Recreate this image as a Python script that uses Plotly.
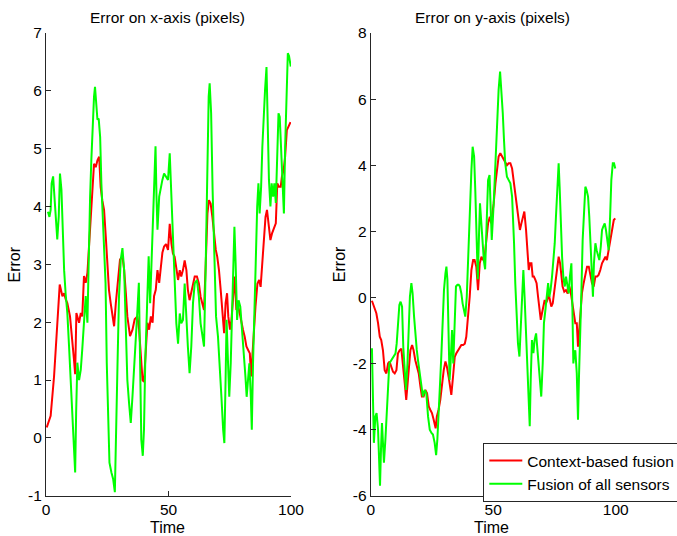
import plotly.graph_objects as go

# ---------------- data ----------------
# Left panel: error on x-axis (pixels)
tx_ctx = [0.3, 1.9, 3.3, 4.6, 5.6, 6.7, 7.4, 8.0, 8.7, 9.8, 10.8, 11.4, 11.9, 12.4, 12.8, 13.5, 14.2, 14.8,
          15.5, 16.2, 16.9, 17.6, 18.3, 18.9, 19.6, 20.3, 21.0, 21.7, 22.3, 23.0, 23.7, 24.4, 25.1, 25.7,
          26.4, 27.1, 27.8, 28.5, 29.2, 30.2, 31.2, 31.9, 32.6, 33.2, 34.3, 35.3, 36.2, 37.3, 38.0, 38.7,
          39.4, 40.0, 40.7, 41.4, 42.1, 42.8, 43.5, 44.1, 44.8, 45.5, 46.2, 46.9, 47.5, 48.2, 49.0, 49.8,
          50.5, 51.2, 51.8, 52.5, 53.2, 53.9, 54.6, 55.2, 55.9, 56.6, 57.3, 57.9, 58.6, 59.3, 60.0, 60.7,
          61.6, 62.4, 63.1, 63.8, 64.5, 65.2, 65.9, 66.5, 67.2, 67.9, 68.6, 69.3, 69.9, 70.6, 71.3, 72.0,
          72.7, 73.3, 73.9, 74.4, 75.1, 75.7, 76.3, 77.0, 77.7, 78.4, 79.1, 79.7, 80.4, 81.1, 81.8, 82.5,
          83.2, 83.7, 84.2, 84.9, 85.5, 86.3, 87.0, 87.6, 88.3, 89.0, 89.6, 90.2, 90.9, 91.6, 92.3, 93.1,
          93.8, 94.4, 95.1, 95.8, 96.3, 97.0, 97.6, 98.3, 99.0, 99.8]
ex_ctx = [0.18, 0.38, 1.07, 1.87, 2.65, 2.45, 2.5, 2.4, 2.33, 2.1, 1.7, 1.36, 1.1, 2.16, 2.1, 1.99, 2.16, 2.1,
          2.8, 2.68, 2.85, 3.4, 3.8, 4.34, 4.74, 4.68, 4.8, 4.86, 4.34, 4.1, 3.94, 3.48, 3.02, 2.56,
          2.33, 2.1, 1.93, 2.33, 2.68, 3.08, 3.14, 2.9, 2.5, 2.1, 1.76, 1.87, 2.05, 2.1, 1.87, 1.41,
          1.0, 0.97, 1.53, 1.99, 1.87, 2.1, 1.99, 2.45, 2.56, 2.9, 2.68, 3.02, 3.2, 3.31, 3.35, 3.25,
          3.7, 3.36, 3.19, 3.13, 2.9, 2.73, 2.9, 2.79, 2.9, 3.07, 2.9, 2.56, 2.38, 2.5, 2.67, 2.79,
          2.79, 2.67, 2.44, 2.33, 2.21, 3.02, 3.88, 4.11, 4.05, 3.82, 3.48, 3.25, 3.13, 2.9, 2.56, 2.15,
          1.81, 2.33, 2.5, 2.1, 1.87, 2.04, 2.44, 2.79, 2.21, 2.27, 2.15, 1.98, 1.87, 1.75, 1.58, 1.52,
          1.46, 1.06, 1.46, 1.93, 2.27, 2.67, 2.73, 2.61, 3.02, 3.36, 3.82, 3.94, 3.65, 3.42, 3.54, 3.65,
          3.71, 4.4, 4.34, 4.34, 4.52, 4.63, 4.86, 5.32, 5.4, 5.46]

tx_all = [0.8, 1.4, 1.9, 2.3, 2.9, 3.3, 3.7, 4.2, 4.6, 5.2, 5.7, 6.3, 6.8, 7.4, 8.0, 8.7, 9.4, 10.1, 10.8,
          11.4, 11.9, 12.3, 12.8, 13.5, 14.2, 14.8, 15.5, 16.2, 16.9, 17.3, 18.0, 18.5, 19.1, 19.6, 20.0,
          20.6, 21.0, 21.5, 22.1, 22.6, 23.2, 23.7, 24.3, 24.8, 25.3, 25.9, 26.7, 27.4, 28.1, 28.6, 29.2,
          29.8, 30.5, 31.2, 31.9, 32.6, 33.2, 33.9, 34.6, 35.3, 36.0, 36.6, 37.3, 37.9, 38.4, 38.9, 39.5,
          40.0, 40.5, 41.0, 41.6, 41.9, 42.5, 43.1, 43.6, 44.1, 44.7, 45.1, 45.5, 46.2, 46.9, 47.5, 48.2,
          48.9, 49.8, 50.5, 51.2, 51.8, 52.5, 53.2, 53.9, 54.6, 55.2, 55.9, 56.6, 57.3, 57.9, 58.6, 59.3,
          60.0, 60.7, 61.6, 62.4, 63.1, 63.8, 64.5, 65.2, 65.9, 66.4, 66.8, 67.4, 68.0, 68.7, 69.4, 70.2,
          70.9, 71.6, 72.3, 72.8, 73.3, 73.7, 74.3, 74.8, 75.4, 75.9, 76.5, 76.9, 77.4, 78.0, 78.6, 79.3,
          80.0, 80.7, 81.4, 81.9, 82.5, 83.0, 83.6, 84.0, 84.5, 85.1, 85.6, 86.2, 86.7, 87.2, 87.8, 88.3,
          88.9, 89.4, 90.0, 90.5, 91.0, 91.6, 92.1, 92.7, 93.2, 93.8, 94.3, 94.9, 95.4, 96.0, 96.5, 97.1,
          97.6, 98.1, 98.7, 99.2, 99.9]
ex_all = [3.91, 3.82, 3.94, 4.4, 4.52, 4.29, 4.06, 3.66, 3.43, 3.83, 4.57, 4.29, 3.48, 2.9, 2.5, 2.16, 1.59, 1.0, 0.38,
          -0.14, -0.6, 0.44, 1.3, 1.0, 1.18, 1.53, 1.99, 2.45, 1.99, 3.02, 4.17, 4.8, 5.6, 5.9, 6.07,
          5.78, 5.5, 5.52, 5.2, 4.4, 3.83, 3.37, 2.68, 1.3, 0.38, -0.43, -0.6, -0.71, -0.94, -0.14, 1.3,
          2.45, 3.08, 3.28, 2.9, 1.87, 1.0, 0.6, 0.26, 0.72, 1.3, 1.87, 2.2, 2.68, 1.59, -0.03, -0.31,
          0.15, 1.3, 2.04, 2.68, 3.14, 2.33, 3.02, 3.6, 4.29, 5.04, 4.17, 3.6, 4.17, 4.34, 4.46, 4.57,
          4.52, 4.46, 4.92, 4.17, 3.3, 2.79, 1.98, 1.63, 2.15, 1.98, 2.04, 2.67, 1.98, 1.58, 1.12, 1.58,
          2.33, 2.67, 2.73, 2.44, 1.98, 1.75, 1.58, 3.02, 5.04, 5.9, 6.13, 5.61, 4.29, 3.02, 2.1, 1.75,
          1.29, 0.71, 0.14, -0.09, 1.0, 2.04, 1.29, 0.71, 1.29, 2.15, 3.02, 3.65, 3.02, 2.04, 2.38, 2.27,
          1.87, 1.52, 1.06, 0.71, 1.0, 1.29, 0.71, 0.14, 1.29, 2.1, 3.02, 4.0, 4.4, 3.88, 4.34, 5.03,
          5.72, 6.01, 6.41, 5.61, 4.46, 4.0, 4.4, 4.17, 4.4, 4.06, 4.75, 5.61, 5.55, 4.86, 4.29, 3.88,
          5.03, 5.9, 6.65, 6.6, 6.42]

# Right panel: error on y-axis (pixels)
ty_ctx = [0.5, 1.3, 2.3, 3.0, 3.7, 4.3, 5.0, 5.7, 6.4, 7.1, 7.7, 8.4, 9.1, 9.8, 10.5, 11.1, 11.8, 12.5, 13.2,
          13.9, 14.5, 15.0, 15.5, 16.2, 16.9, 17.5, 18.2, 18.9, 19.6, 20.3, 20.9, 21.6, 22.3, 23.0, 23.7,
          24.3, 25.0, 25.7, 26.5, 27.0, 27.7, 28.4, 29.1, 29.8, 30.5, 31.1, 31.8, 32.5, 32.9, 33.6, 34.3,
          34.9, 35.6, 36.3, 37.0, 37.7, 38.4, 39.0, 39.7, 40.4, 41.1, 41.8, 42.4, 43.1, 43.8, 44.5, 45.2,
          45.8, 46.5, 47.2, 47.9, 48.6, 49.2, 49.5, 50.2, 50.9, 51.5, 52.2, 52.9, 53.6, 54.3, 54.9, 55.6,
          56.3, 57.0, 57.7, 58.3, 59.0, 59.7, 60.4, 60.9, 61.5, 62.0, 62.7, 63.4, 63.9, 64.5, 65.0, 65.6,
          66.1, 66.6, 67.2, 67.7, 68.3, 68.8, 69.4, 69.9, 70.5, 71.0, 71.5, 72.1, 72.6, 73.2, 73.7, 74.3,
          74.8, 75.4, 76.0, 76.7, 77.3, 77.8, 78.3, 79.0, 79.7, 80.4, 81.1, 81.7, 82.4, 83.0, 83.5, 84.1,
          84.6, 85.1, 85.7, 86.2, 86.9, 87.6, 88.3, 89.0, 89.6, 90.3, 91.0, 91.7, 92.4, 93.0, 93.7, 94.4,
          95.1, 95.8, 96.4, 97.1, 97.8, 98.5, 99.2, 99.8]
ey_ctx = [-0.1, -0.28, -0.48, -0.78, -1.19, -1.29, -1.6, -2.2, -2.3, -2.0, -1.94, -2.1, -2.25, -2.3, -2.2, -1.7, -1.6, -1.55, -2.0,
          -2.6, -3.1, -2.6, -2.0, -1.6, -1.44, -1.6, -1.9, -2.15, -2.3, -2.7, -3.0, -3.0, -2.8, -2.9, -3.3,
          -3.4, -3.5, -3.7, -3.96, -3.6, -3.4, -3.1, -2.6, -2.2, -1.94, -2.1, -2.4, -2.7, -2.95, -2.4, -1.8,
          -1.7, -1.6, -1.5, -1.44, -1.44, -1.4, -1.19, -0.68, 0.02, 0.83, 1.13, 1.13, 0.93, 0.22, 1.03, 1.23,
          1.13, 1.23, 1.84, 2.24, 2.44, 2.24, 2.44, 2.85, 3.45, 3.85, 4.26, 4.36, 4.26, 4.16, 4.06, 4.0,
          4.06, 4.06, 3.9, 3.55, 3.05, 2.64, 2.24, 2.04, 2.24, 2.44, 2.6, 2.04, 1.33, 0.83, 1.03, 1.03,
          0.63, 0.63, 0.53, 0.43, 0.02, -0.38, -0.68, -0.48, -0.18, -0.08, -0.18, -0.08, 0.12, -0.08, -0.28, -0.18,
          0.12, 0.43, 0.83, 1.23, 1.03, 0.63, 0.33, 0.17, 0.22, 0.12, 0.33, 0.12, -0.28, -0.58, -0.78, -0.78,
          -1.49, -0.99, -0.38, 0.12, 0.43, 0.73, 0.93, 0.93, 0.73, 0.43, 0.33, 0.63, 0.63, 0.68, 0.83, 1.03,
          1.13, 1.23, 1.13, 1.43, 1.74, 2.14, 2.34, 2.39]

ty_all = [0.5, 0.9, 1.3, 1.9, 2.4, 3.0, 3.4, 3.8, 4.2, 4.6, 5.0, 5.4, 6.0, 6.5, 7.1, 7.6, 8.4, 9.2, 10.1,
          10.6, 11.1, 11.7, 12.2, 12.8, 13.3, 13.9, 14.4, 15.0, 15.5, 16.0, 16.6, 17.1, 17.7, 18.2, 18.8,
          19.3, 20.0, 20.7, 21.3, 22.0, 22.7, 23.4, 24.1, 24.8, 25.4, 26.1, 26.7, 27.2, 27.7, 28.3, 28.8,
          29.4, 29.9, 30.5, 30.9, 31.3, 31.7, 32.2, 32.6, 33.2, 33.7, 34.3, 34.8, 35.4, 35.9, 36.4, 37.0,
          37.5, 38.1, 38.6, 39.2, 39.7, 40.1, 40.5, 41.1, 41.6, 42.2, 42.7, 43.3, 43.7, 44.2, 44.6, 45.1,
          45.6, 46.2, 46.7, 47.3, 47.9, 48.5, 49.0, 49.4, 50.2, 50.9, 51.5, 52.2, 52.8, 53.3, 53.9, 54.4,
          54.9, 55.6, 56.3, 57.0, 57.7, 58.1, 58.5, 59.0, 59.6, 60.1, 60.7, 61.2, 61.7, 62.3, 62.8, 63.4,
          63.9, 64.5, 64.9, 65.3, 65.8, 66.4, 66.9, 67.5, 68.0, 68.5, 69.1, 69.6, 70.2, 70.7, 71.3, 71.8,
          72.4, 72.9, 73.4, 74.0, 74.5, 75.1, 75.6, 76.2, 76.7, 77.1, 77.5, 78.1, 78.6, 79.2, 79.7, 80.2,
          80.8, 81.3, 81.9, 82.3, 82.7, 83.1, 83.5, 84.1, 84.6, 85.0, 85.4, 86.0, 86.5, 87.1, 87.6, 88.1,
          88.7, 89.2, 89.8, 90.3, 90.7, 91.1, 91.7, 92.2, 92.8, 93.3, 93.9, 94.4, 94.9, 95.5, 96.0, 96.6,
          97.1, 97.7, 98.2, 98.8, 99.3, 99.8]
ey_all = [-1.54, -3.0, -4.4, -3.6, -3.5, -4.0, -5.0, -5.7, -4.6, -3.8, -4.4, -5.0, -4.3, -3.5, -2.6, -2.0, -1.9, -1.8, -1.7,
          -1.4, -0.79, -0.23, -0.13, -0.28, -1.5, -2.4, -2.8, -2.0, -0.99, 0.02, 0.43, 0.12, -0.58, -1.19, -1.59,
          -1.9, -2.3, -2.7, -3.0, -2.8, -2.9, -3.6, -4.0, -4.1, -4.15, -4.4, -4.77, -4.3, -3.3, -2.6, -1.8,
          -0.68, 0.22, 0.73, 0.93, 0.53, -0.99, -2.5, -2.0, -0.99, -2.0, -0.28, 0.33, 0.38, 0.38, 0.33, 0.12,
          -0.18, -0.48, -0.58, 0.02, 1.03, 2.04, 3.05, 3.85, 4.56, 4.26, 3.2, 1.6, 0.55, 1.9, 2.85, 2.3,
          1.7, 1.1, 0.85, 2.3, 3.55, 3.7, 2.6, 1.74, 2.85, 4.06, 5.27, 6.28, 6.83, 6.38, 5.57, 4.76,
          4.06, 3.65, 3.55, 3.45, 3.05, 2.44, 1.64, 0.43, -0.68, -1.39, -1.79, -0.99, 0.22, 0.83, 0.02, -0.99,
          -2.0, -3.0, -3.9, -2.5, -1.29, -1.69, -1.29, -1.09, -1.59, -2.2, -2.7, -3.0, -2.0, -0.78, -0.38, 0.02,
          0.43, 0.02, 0.22, 0.63, 1.03, 1.64, 2.44, 3.35, 4.06, 3.35, 2.34, 1.23, 0.63, 0.33, 0.63, 0.43,
          0.12, 0.63, 1.03, -0.28, -2.0, -1.7, -1.6, -2.3, -3.7, -2.4, -0.99, 0.22, 1.74, 2.85, 3.35, 3.25,
          3.05, 2.44, 1.23, 0.53, 0.02, 1.03, 1.64, 1.43, 1.23, 1.13, 1.54, 2.04, 2.14, 2.24, 2.04, 1.64,
          1.43, 2.44, 3.55, 4.06, 4.06, 3.9]

titles = ["Error on x-axis (pixels)", "Error on y-axis (pixels)"]
series_names = ["Context-based fusion", "Fusion of all sensors"]
x_label = "Time"
y_label = "Error"
x_ticks = [0, 50, 100]
y_ticks_left = [-1, 0, 1, 2, 3, 4, 5, 6, 7]
y_ticks_right = [-6, -4, -2, 0, 2, 4, 6, 8]

# ---------------- styling ----------------
W, H = 677, 536
RED = "#ff0000"
GREEN = "#00ff00"
FONT = "Liberation Sans, Arial, Helvetica, sans-serif"
AX = "#262626"

fig = go.Figure()
fig.add_trace(go.Scatter(x=tx_ctx, y=ex_ctx, mode="lines", line=dict(color=RED, width=2),
                         name=series_names[0], showlegend=False, xaxis="x", yaxis="y"))
fig.add_trace(go.Scatter(x=tx_all, y=ex_all, mode="lines", line=dict(color=GREEN, width=2),
                         name=series_names[1], showlegend=False, xaxis="x", yaxis="y"))
fig.add_trace(go.Scatter(x=ty_ctx, y=ey_ctx, mode="lines", line=dict(color=RED, width=2),
                         name=series_names[0], xaxis="x2", yaxis="y2"))
fig.add_trace(go.Scatter(x=ty_all, y=ey_all, mode="lines", line=dict(color=GREEN, width=2),
                         name=series_names[1], xaxis="x2", yaxis="y2"))

y_dom = [1 - 495.7 / H, 1 - 33 / H]
common = dict(showgrid=False, zeroline=False, showline=True, linecolor=AX, linewidth=1,
              ticks="inside", ticklen=5, tickcolor=AX, tickwidth=1,
              tickfont=dict(family=FONT, size=15.5, color="black"), mirror=False)

def tt(vals):
    return dict(tickmode="array", tickvals=vals, ticktext=[str(v) for v in vals])

fig.update_layout(
    width=W, height=H, margin=dict(l=0, r=0, t=0, b=0, autoexpand=False),
    paper_bgcolor="white", plot_bgcolor="white",
    xaxis=dict(domain=[46 / W, 291 / W], range=[0, 100], anchor="y", **tt(x_ticks), **common),
    yaxis=dict(domain=y_dom, range=[-1, 7], anchor="x", **tt(y_ticks_left), **common),
    xaxis2=dict(domain=[370.7 / W, 1.0], range=[0, 125], anchor="y2", **tt(x_ticks), **common),
    yaxis2=dict(domain=y_dom, range=[-6, 8], anchor="x2", **tt(y_ticks_right), **common),
    legend=dict(x=483.3 / W, y=1 - 443 / H, xanchor="left", yanchor="top",
                bgcolor="white", bordercolor="#262626", borderwidth=1,
                font=dict(family=FONT, size=15.5, color="black"),
                itemwidth=33, tracegroupgap=0),
    showlegend=True,
)

ann = []
def add_text(text, x, y, size, angle=0):
    ann.append(dict(text=text, x=x / W, y=1 - y / H, xref="paper", yref="paper",
                    showarrow=False, xanchor="center", yanchor="middle", textangle=angle,
                    font=dict(family=FONT, size=size, color="black")))

add_text(titles[0], 167.5, 17, 15.5)
add_text(titles[1], 492, 17, 15.5)
add_text(y_label, 14, 264.5, 16, -90)
add_text(y_label, 339.7, 264.5, 16, -90)
add_text(x_label, 167, 527, 16)
add_text(x_label, 491, 527, 16)
fig.update_layout(annotations=ann)

# remove the page's default body margin so the figure sits at the window's corner
fig.write_html("out.html", config={"displayModeBar": False},
               post_script="document.body.style.margin='0';document.body.style.overflow='hidden';")
